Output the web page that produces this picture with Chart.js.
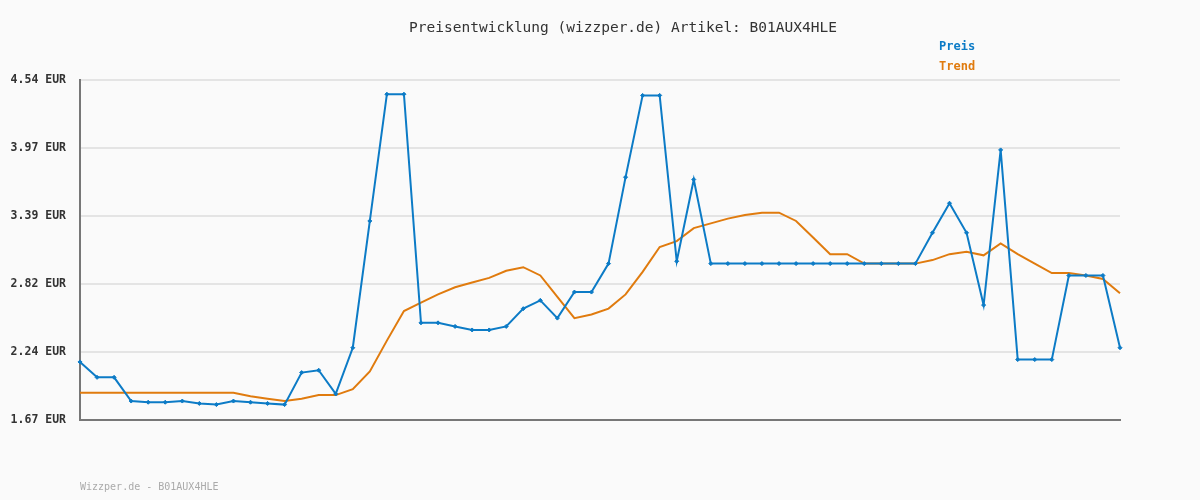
<!DOCTYPE html>
<html>
<head>
<meta charset="utf-8">
<script src="https://cdn.jsdelivr.net/npm/chart.js@4"></script>
<style>
  html, body { margin: 0; padding: 0; background: #fafafa; }
  #wrap { width: 1200px; height: 500px; position: relative; }
</style>
</head>
<body>
<div id="wrap"><canvas id="chart-1"></canvas></div>
<script>
const ctx = document.getElementById('chart-1');

const titleText = 'Preisentwicklung (wizzper.de) Artikel: B01AUX4HLE';
const footerText = 'Wizzper.de - B01AUX4HLE';

const tickValues = [1.67, 2.24, 2.82, 3.39, 3.97, 4.54];

const preis = [2.16, 2.03, 2.03, 1.83, 1.82, 1.82, 1.83, 1.81, 1.80, 1.83,
    1.82, 1.81, 1.80, 2.07, 2.09, 1.89, 2.28, 3.35, 4.42, 4.42,
    2.49, 2.49, 2.46, 2.43, 2.43, 2.46, 2.61, 2.68, 2.53, 2.75,
    2.75, 2.99, 3.72, 4.41, 4.41, 3.01, 3.70, 2.99, 2.99, 2.99,
    2.99, 2.99, 2.99, 2.99, 2.99, 2.99, 2.99, 2.99, 2.99, 2.99,
    3.25, 3.50, 3.25, 2.64, 3.95, 2.18, 2.18, 2.18, 2.89, 2.89,
    2.89, 2.28];

const trend = [1.90, 1.90, 1.90, 1.90, 1.90, 1.90, 1.90, 1.90, 1.90, 1.90,
    1.87, 1.85, 1.83, 1.85, 1.88, 1.88, 1.93, 2.08, 2.34, 2.59,
    2.66, 2.73, 2.79, 2.83, 2.87, 2.93, 2.96, 2.89, 2.71, 2.53,
    2.56, 2.61, 2.73, 2.92, 3.13, 3.18, 3.29, 3.33, 3.37, 3.40,
    3.42, 3.42, 3.35, 3.21, 3.07, 3.07, 2.99, 2.99, 2.99, 2.99,
    3.02, 3.07, 3.09, 3.06, 3.16, 3.07, 2.99, 2.91, 2.91, 2.89,
    2.86, 2.74];

const labels = preis.map((v, i) => String(i + 1));

const blue = '#0c7bc6';
const orange = '#e07b0e';

// background, title, legend and footer text
const decor = {
    id: 'decor',
    beforeDraw(chart) {
        const c = chart.ctx;
        c.save();
        c.fillStyle = '#fafafa';
        c.fillRect(0, 0, chart.width, chart.height);
        c.restore();
    },
    afterDraw(chart) {
        const c = chart.ctx;
        c.save();
        c.textBaseline = 'middle';
        c.fillStyle = '#333';
        c.font = '14.5px "DejaVu Sans Mono"';
        c.textAlign = 'center';
        c.fillText(titleText, 623, 28);

        c.textAlign = 'left';
        c.font = 'bold 12px "DejaVu Sans Mono"';
        c.fillStyle = blue;
        c.fillText('Preis', 939, 47);
        c.fillStyle = orange;
        c.fillText('Trend', 939, 67);

        c.font = '10px "DejaVu Sans Mono"';
        c.fillStyle = '#aaa';
        c.fillText(footerText, 80, 487);
        c.restore();
    }
};

new Chart(ctx, {
    type: 'line',
    data: {
        labels: labels,
        datasets: [
            {
                label: 'Preis',
                data: preis,
                borderColor: blue,
                backgroundColor: blue,
                borderWidth: 2,
                pointStyle: 'rectRot',
                pointRadius: 2,
                pointBorderWidth: 1,
                tension: 0
            },
            {
                label: 'Trend',
                data: trend,
                borderColor: orange,
                borderWidth: 2,
                pointRadius: 0,
                tension: 0
            }
        ]
    },
    options: {
        responsive: true,
        maintainAspectRatio: false,
        animation: false,
        layout: {
            padding: { left: 0, right: 80, top: 80, bottom: 80 }
        },
        plugins: {
            legend: { display: false },
            title: { display: false },
            tooltip: { enabled: false }
        },
        scales: {
            x: {
                offset: false,
                ticks: { display: false },
                grid: { display: false, drawTicks: false },
                border: { display: true, color: '#777', width: 2 },
                afterFit(scale) { scale.height = 0; }
            },
            y: {
                min: 1.67,
                max: 4.54,
                afterBuildTicks(scale) {
                    scale.ticks = tickValues.map(v => ({ value: v }));
                },
                afterFit(scale) { scale.width = 80; },
                ticks: {
                    padding: 14,
                    color: '#333',
                    font: { family: '"DejaVu Sans Mono"', size: 11.5, weight: 'bold' },
                    callback: v => v.toFixed(2) + ' EUR'
                },
                grid: { color: '#e4e4e4', lineWidth: 2, drawTicks: false },
                border: { display: true, color: '#777', width: 2 }
            }
        }
    },
    plugins: [decor]
});
</script>
</body>
</html>
